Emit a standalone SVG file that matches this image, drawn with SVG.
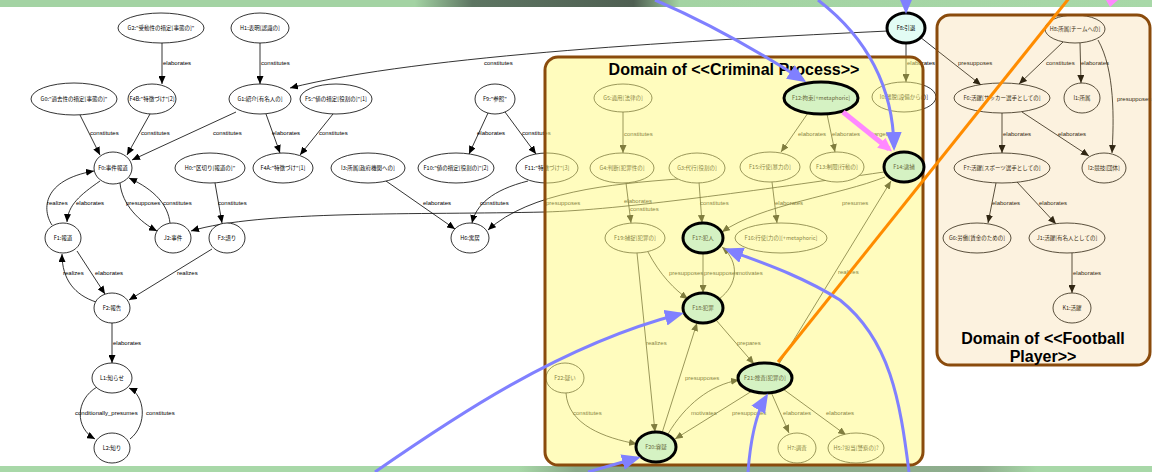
<svg xmlns="http://www.w3.org/2000/svg" width="1152" height="472" viewBox="0 0 1152 472">
<defs>
<linearGradient id="topband" x1="0" y1="0" x2="1152" y2="0" gradientUnits="userSpaceOnUse">
<stop offset="0" stop-color="#a3d3a3"/><stop offset="0.36" stop-color="#a3d3a3"/><stop offset="0.41" stop-color="#5d7562"/><stop offset="0.55" stop-color="#4f5f52"/><stop offset="0.59" stop-color="#a3d3a3"/><stop offset="1" stop-color="#a8d8a8"/>
</linearGradient>
<linearGradient id="botband" x1="0" y1="0" x2="1152" y2="0" gradientUnits="userSpaceOnUse">
<stop offset="0" stop-color="#a8d8a8"/><stop offset="0.45" stop-color="#a8d8a8"/><stop offset="0.5" stop-color="#88a888"/><stop offset="0.85" stop-color="#8fae8e"/><stop offset="0.9" stop-color="#a8d8a8"/><stop offset="1" stop-color="#a8d8a8"/>
</linearGradient>
<marker id="ah" markerUnits="userSpaceOnUse" markerWidth="9" markerHeight="7" refX="8" refY="3.5" orient="auto"><path d="M0,0 L8,3.5 L0,7 z" fill="#000"/></marker>
<marker id="ab" markerUnits="userSpaceOnUse" markerWidth="20" markerHeight="16" refX="15" refY="8" orient="auto"><path d="M0,0 L19,8 L0,16 z" fill="#8080ff"/></marker>
<marker id="ap" markerUnits="userSpaceOnUse" markerWidth="15" markerHeight="13" refX="10" refY="6.5" orient="auto"><path d="M0,0 L14,6.5 L0,13 z" fill="#ff88ff"/></marker>
<style>
.e{fill:none;stroke:#000;stroke-width:0.8;marker-end:url(#ah)}
.l{font-family:"Liberation Sans",Arial,sans-serif;font-size:6px;fill:#000}
.n ellipse{fill:#fff;stroke:#000;stroke-width:0.8}
.n text{font-family:"Noto Sans CJK JP","Noto Sans",sans-serif;font-size:5.5px;text-anchor:middle;fill:#000}
.h ellipse{fill:#d5f2c3;stroke:#000;stroke-width:3}
.h text{fill:#66663a}
.c ellipse{fill:#e2fcf4}
.c text{fill:#000}
.b{fill:none;stroke:#8080ff;stroke-width:3;marker-end:url(#ab)}
.dom{stroke:#8a4b0c;stroke-width:3}
.t{font-family:"Liberation Sans",Arial,sans-serif;font-weight:bold;font-size:16px;text-anchor:middle;fill:#000}
</style>
</defs>
<rect x="0" y="0" width="1152" height="472" fill="#fff"/>
<rect x="0" y="0" width="1152" height="7" fill="url(#topband)"/>
<rect x="0" y="466" width="1152" height="6" fill="url(#botband)"/>

<g id="connectors">
<path class="e" d="M162,43 L162,84"/><text class="l" x="163" y="65">elaborates</text>
<path class="e" d="M260,43 L260,84"/><text class="l" x="261" y="65">constitutes</text>
<path class="e" d="M888,31 C700,40 420,55 290,88"/><text class="l" x="484" y="65">constitutes</text>
<path class="e" d="M80,115 L100,155"/><text class="l" x="90" y="135">constitutes</text>
<path class="e" d="M150,114 L127,155"/><text class="l" x="141" y="135">constitutes</text>
<path class="e" d="M236,112 L132,160"/><text class="l" x="213" y="135">constitutes</text>
<path class="e" d="M266,114 L280,153"/><text class="l" x="272" y="135">elaborates</text>
<path class="e" d="M333,114 L300,155"/><text class="l" x="319" y="135">constitutes</text>
<path class="e" d="M488,113 L469,154"/><text class="l" x="477" y="135">elaborates</text>
<path class="e" d="M505,112 L536,154"/><text class="l" x="522" y="135">constitutes</text>
<path class="e" d="M52,225 C42,210 42,180 94,171"/><text class="l" x="47" y="205">realizes</text>
<path class="e" d="M100,181 C80,195 68,205 67,222"/><text class="l" x="76" y="205">elaborates</text>
<path class="e" d="M120,183 C122,205 140,222 157,231"/><text class="l" x="126" y="205">presupposes</text>
<path class="e" d="M170,223 C168,205 155,190 129,178"/><text class="l" x="163" y="205">constitutes</text>
<path class="e" d="M215,183 L222,223"/><text class="l" x="218" y="205">constitutes</text>
<path class="e" d="M212,249 L129,300"/><text class="l" x="177" y="275">realizes</text>
<path class="e" d="M77,251 L105,294"/><text class="l" x="95" y="275">elaborates</text>
<path class="e" d="M96,302 C75,295 62,280 62,254"/><text class="l" x="63" y="275">realizes</text>
<path class="e" d="M112,323 L112,363"/><text class="l" x="113" y="345">elaborates</text>
<path class="e" d="M97,387 C75,400 75,428 95,439"/><text class="l" x="75" y="415">conditionally_presumes</text>
<path class="e" d="M130,439 C148,425 145,395 129,388"/><text class="l" x="146" y="415">constitutes</text>
<path class="e" d="M386,181 L455,229"/><text class="l" x="423" y="205">elaborates</text>
<path class="e" d="M528,181 C492,190 476,205 472,223"/><text class="l" x="480" y="205">constitutes</text>
<path class="e" d="M678,179 C610,184 530,192 488,230"/>
<path class="e" d="M884,172 C760,190 620,210 545,212 C420,215 260,210 191,231"/><text class="l" x="546" y="205">presupposes</text>
<path class="e" d="M623,112 L623,153"/><text class="l" x="624" y="136">constitutes</text>
<path class="e" d="M626,183 L631,223"/><text class="l" x="624" y="203">elaborates</text><text class="l" x="630" y="211">constitutes</text>
<path class="e" d="M699,182 L702,223"/><text class="l" x="700" y="205">constitutes</text>
<path class="e" d="M808,113 L781,152"/><text class="l" x="798" y="136">elaborates</text>
<path class="e" d="M827,114 L835,152"/><text class="l" x="832" y="136">elaborates</text>
<text class="l" x="872" y="136">targets</text>
<path class="e" d="M772,182 L777,223"/><text class="l" x="775" y="205">elaborates</text>
<path class="e" d="M885,177 C840,195 760,205 722,232"/><text class="l" x="842" y="205">presumes</text>
<path class="e" d="M779,364 L891,181"/><text class="l" x="838" y="274">realizes</text>
<path class="e" d="M648,252 C660,275 675,290 688,299"/><text class="l" x="669" y="275">presupposes</text>
<path class="e" d="M703,253 L703,293"/><text class="l" x="704" y="275">presupposes</text>
<path class="e" d="M719,299 C738,285 740,262 722,247"/><text class="l" x="737" y="275">motivates</text>
<path class="e" d="M637,253 L655,432"/><text class="l" x="646" y="345">realizes</text>
<path class="e" d="M662,433 L697,323"/><text class="l" x="685" y="380">presupposes</text>
<path class="e" d="M716,320 L754,364"/><text class="l" x="737" y="345">prepares</text>
<path class="e" d="M566,393 C568,425 605,438 637,444"/><text class="l" x="573" y="415">constitutes</text>
<path class="e" d="M668,434 C685,405 710,385 739,380"/><text class="l" x="691" y="415">motivates</text>
<path class="e" d="M752,391 L675,439"/><text class="l" x="732" y="415">presupposes</text>
<path class="e" d="M771,392 L789,433"/><text class="l" x="783" y="415">elaborates</text>
<path class="e" d="M783,389 L846,435"/><text class="l" x="826" y="415">elaborates</text>
<path class="e" d="M906,43 L906,82"/><text class="l" x="907" y="65">elaborates</text>
<path class="e" d="M920,37 L981,85"/><text class="l" x="958" y="65">presupposes</text>
<path class="e" d="M1063,42 L1019,84"/><text class="l" x="1046" y="65">constitutes</text>
<path class="e" d="M1080,43 L1081,83"/><text class="l" x="1081" y="65">elaborates</text>
<path class="e" d="M1098,40 C1115,70 1114,120 1112,153"/><text class="l" x="1117" y="101">presupposes</text>
<path class="e" d="M1002,113 L1002,153"/><text class="l" x="1003" y="136">elaborates</text>
<path class="e" d="M1022,112 L1089,156"/><text class="l" x="1058" y="136">elaborates</text>
<path class="e" d="M996,183 L988,223"/><text class="l" x="992" y="205">elaborates</text>
<path class="e" d="M1017,182 L1056,224"/><text class="l" x="1039" y="205">elaborates</text>
<path class="e" d="M1072,253 L1072,293"/><text class="l" x="1073" y="275">elaborates</text>
</g>

<g id="nodes">
<g id="G2" class="n"><ellipse cx="161" cy="28" rx="43" ry="15"/><text x="161" y="30">G2:"受動性の措定[事態の]"</text></g>
<g id="H1" class="n"><ellipse cx="260" cy="28" rx="29" ry="15"/><text x="260" y="30">H1:表明[認識の]</text></g>
<g id="G0" class="n"><ellipse cx="74" cy="99" rx="43" ry="16"/><text x="74" y="101">G0:"過去性の措定[事態の]"</text></g>
<g id="F4B" class="n"><ellipse cx="152" cy="99" rx="24" ry="15"/><text x="152" y="101">F4B:"特徴づけ"[2]</text></g>
<g id="G1" class="n"><ellipse cx="260" cy="99" rx="31" ry="15"/><text x="260" y="101">G1:紹介[有名人の]</text></g>
<g id="F5" class="n"><ellipse cx="336" cy="99" rx="36" ry="15"/><text x="336" y="101">F5:"値の措定[役割の]"[1]</text></g>
<g id="F9" class="n"><ellipse cx="495" cy="99" rx="20" ry="15"/><text x="495" y="101">F9:"参照"</text></g>
<g id="F0" class="n"><ellipse cx="113" cy="168" rx="19" ry="16"/><text x="113" y="170">F0:事件報道</text></g>
<g id="H0" class="n"><ellipse cx="210" cy="168" rx="35" ry="15"/><text x="210" y="170">H0:"区切り[報道の]"</text></g>
<g id="F4A" class="n"><ellipse cx="283" cy="168" rx="30" ry="15"/><text x="283" y="170">F4A:"特徴づけ"[1]</text></g>
<g id="I3" class="n"><ellipse cx="368" cy="168" rx="37" ry="15"/><text x="368" y="170">I3:所属[政府機関への]</text></g>
<g id="F10" class="n"><ellipse cx="456" cy="168" rx="38" ry="15"/><text x="456" y="170">F10:"値の措定[役割の]"[2]</text></g>
<g id="F11" class="n"><ellipse cx="547" cy="168" rx="31" ry="15"/><text x="547" y="170">F11:"特徴づけ"[3]</text></g>
<g id="F1" class="n"><ellipse cx="63" cy="238" rx="18" ry="15"/><text x="63" y="240">F1:報道</text></g>
<g id="J2" class="n"><ellipse cx="173" cy="238" rx="18" ry="15"/><text x="173" y="240">J2:事件</text></g>
<g id="F3" class="n"><ellipse cx="227" cy="238" rx="18" ry="15"/><text x="227" y="240">F3:語り</text></g>
<g id="F2" class="n"><ellipse cx="112" cy="308" rx="18" ry="15"/><text x="112" y="310">F2:報告</text></g>
<g id="L1" class="n"><ellipse cx="112" cy="378" rx="20" ry="15"/><text x="112" y="380">L1:知らせ</text></g>
<g id="L2" class="n"><ellipse cx="112" cy="448" rx="18" ry="15"/><text x="112" y="450">L2:知り</text></g>
<g id="H6" class="n"><ellipse cx="470" cy="238" rx="19" ry="15"/><text x="470" y="240">H6:寓居</text></g>
<g id="G5" class="n"><ellipse cx="623" cy="98" rx="29" ry="14"/><text x="623" y="100">G5:適用[法律の]</text></g>
<g id="G4" class="n"><ellipse cx="622" cy="168" rx="32" ry="15"/><text x="622" y="170">G4:判断[犯罪性の]</text></g>
<g id="G3" class="n"><ellipse cx="697" cy="168" rx="28" ry="15"/><text x="697" y="170">G3:代行[役割の]</text></g>
<g id="I0" class="n"><ellipse cx="904" cy="97" rx="32" ry="15"/><text x="904" y="99">I0:離脱[設備からの]</text></g>
<g id="F15" class="n"><ellipse cx="770" cy="167" rx="30" ry="15"/><text x="770" y="169">F15:行使[暴力の]</text></g>
<g id="F13" class="n"><ellipse cx="837" cy="167" rx="27" ry="15"/><text x="837" y="169">F13:制限[行動の]</text></g>
<g id="F19" class="n"><ellipse cx="635" cy="238" rx="30" ry="15"/><text x="635" y="240">F19:捕捉[犯罪の]</text></g>
<g id="F16" class="n"><ellipse cx="781" cy="238" rx="46" ry="15"/><text x="781" y="240">F16:行使[力の][+metaphoric]</text></g>
<g id="F22" class="n"><ellipse cx="565" cy="378" rx="19" ry="15"/><text x="565" y="380">F22:疑い</text></g>
<g id="H7" class="n"><ellipse cx="797" cy="448" rx="19" ry="15"/><text x="797" y="450">H7:調査</text></g>
<g id="H5" class="n"><ellipse cx="856" cy="448" rx="28" ry="15"/><text x="856" y="450">H5:?担当[警察の]?</text></g>
<g id="H8" class="n"><ellipse cx="1075" cy="29" rx="30" ry="14"/><text x="1075" y="31">H8:所属[チームへの]</text></g>
<g id="F6" class="n"><ellipse cx="1002" cy="98" rx="48" ry="15"/><text x="1002" y="100">F6:活躍[サッカー選手としての]</text></g>
<g id="I1" class="n"><ellipse cx="1082" cy="98" rx="18" ry="15"/><text x="1082" y="100">I1:所属</text></g>
<g id="F7" class="n"><ellipse cx="1002" cy="168" rx="48" ry="15"/><text x="1002" y="170">F7:活躍[スポーツ選手としての]</text></g>
<g id="I2" class="n"><ellipse cx="1104" cy="168" rx="22" ry="15"/><text x="1104" y="170">I2:競技[団体]</text></g>
<g id="G6" class="n"><ellipse cx="977" cy="238" rx="34" ry="15"/><text x="977" y="240">G6:労働[賃金のための]</text></g>
<g id="J1" class="n"><ellipse cx="1067" cy="238" rx="38" ry="15"/><text x="1067" y="240">J1:活躍[有名人としての]</text></g>
<g id="K1" class="n"><ellipse cx="1072" cy="308" rx="19" ry="15"/><text x="1072" y="310">K1:活躍</text></g>
</g>

<g id="domains">
<rect id="criminal-domain" class="dom" x="545" y="57" width="378" height="408" rx="13" fill="#fff97d" fill-opacity="0.5"/>
<rect id="football-domain" class="dom" x="937" y="15" width="213" height="350" rx="13" fill="#f0c060" fill-opacity="0.2"/>
</g>

<g id="highlighted-nodes">
<g id="F8" class="n h c"><ellipse cx="906" cy="28" rx="19" ry="15"/><text x="906" y="30">F8:引退</text></g>
<g id="F12" class="n h"><ellipse cx="821" cy="98" rx="37" ry="16"/><text x="821" y="100">F12:拘束[+metaphoric]</text></g>
<g id="F14" class="n h"><ellipse cx="904" cy="167" rx="20" ry="15"/><text x="904" y="169">F14:逮捕</text></g>
<g id="F17" class="n h"><ellipse cx="703" cy="238" rx="20" ry="15"/><text x="703" y="240">F17:犯人</text></g>
<g id="F18" class="n h"><ellipse cx="703" cy="308" rx="20" ry="15"/><text x="703" y="310">F18:犯罪</text></g>
<g id="F21" class="n h"><ellipse cx="765" cy="378" rx="27" ry="15"/><text x="765" y="380">F21:捜査[犯罪の]</text></g>
<g id="F20" class="n h"><ellipse cx="656" cy="447" rx="20" ry="15"/><text x="656" y="449">F20:容疑</text></g>
</g>

<g id="titles">
<text class="t" x="734" y="75">Domain of &lt;&lt;Criminal Process&gt;&gt;</text>
<text class="t" x="1043" y="344">Domain of &lt;&lt;Football</text>
<text class="t" x="1043" y="362">Player&gt;&gt;</text>
</g>

<g id="overlays">
<path d="M778,362 L1070,-3" fill="none" stroke="#ff8c00" stroke-width="3"/>
<path d="M843,112 L889,149" fill="none" stroke="#ff88ff" stroke-width="5" marker-end="url(#ap)"/>
<polygon points="1106,0 1118,0 1110,7" fill="#ff88ff"/>
<path class="b" d="M655,0 Q725,30 803,80"/>
<path class="b" d="M818,0 C870,40 893,90 894,147"/>
<path class="b" d="M906,-6 L906,10"/>
<path class="b" d="M375,472 C450,420 560,345 680,314"/>
<path class="b" d="M588,472 L637,458"/>
<path class="b" d="M748,472 Q752,420 766,397"/>
<path class="b" d="M909,472 C900,400 890,340 840,300 C800,275 760,262 728,250"/>
</g>
</svg>
